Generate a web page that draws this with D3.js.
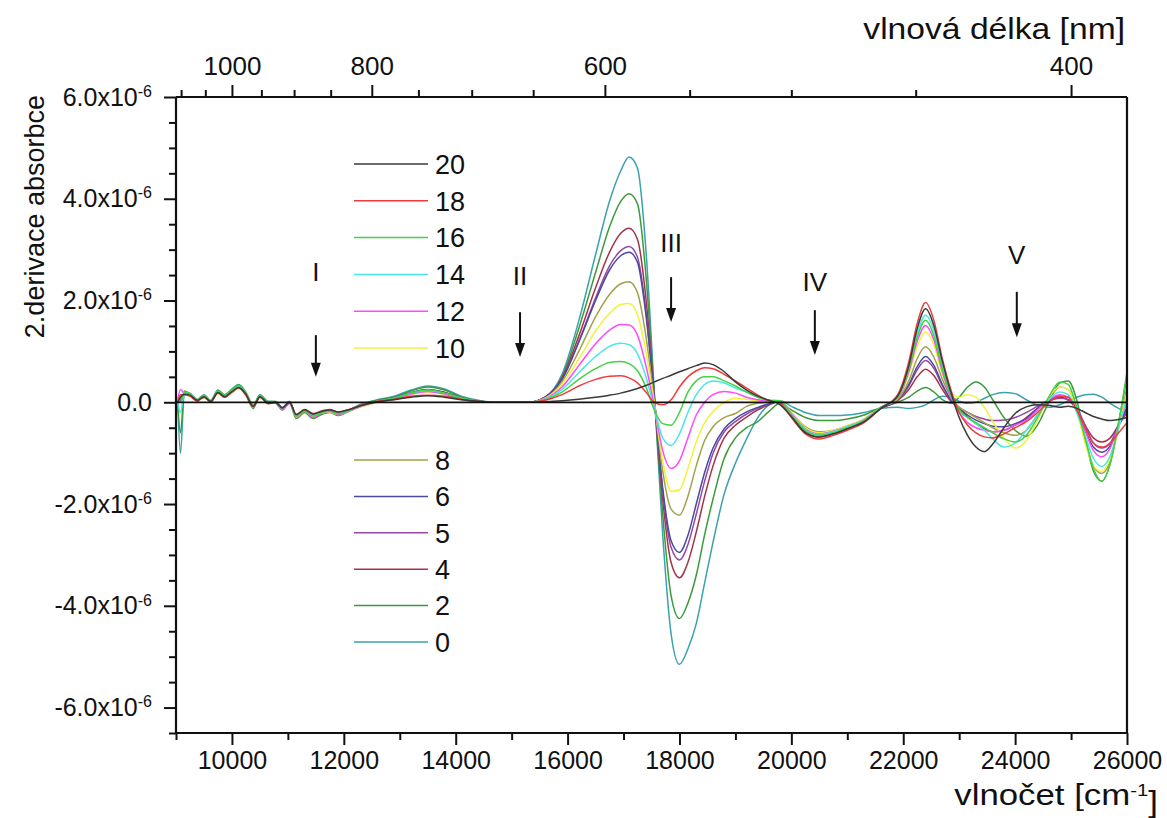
<!DOCTYPE html>
<html><head><meta charset="utf-8">
<script src="https://cdn.jsdelivr.net/npm/d3@7"></script>
<style>
body{margin:0;background:#fff}
svg{display:block}
text{font-family:"Liberation Sans",Arial,Helvetica,sans-serif;fill:#111}
</style>
</head><body>
<svg id="chart" width="1167" height="818"></svg>
<script>
// ---------- DATA (second derivative of absorbance, in units of 1e-6) ----------
const wavenumber = [9030,9080,9150,9250,9380,9500,9620,9750,9870,10000,10120,10250,10380,10500,10650,10780,10900,11030,
 11150,11300,11450,11600,11750,11900,12100,12300,12600,12900,13200,13500,13800,14100,14400,14700,15000,15300,
 15600,15900,16200,16500,16750,16950,17100,17250,17400,17550,17700,17850,18000,18150,18300,18450,18600,18800,19000,19200,19400,19600,19800,
 20000,20250,20500,20750,21000,21300,21600,
 21900,22100,22250,22400,22550,22700,22850,23000,23150,23300,23450,23600,23800,24000,24200,24400,24600,24800,24950,25100,25250,25400,25550,25700,25850,26000];

const s0 = [0.0,-1.0,0.2,0.18,0.06,0.15,0.04,0.24,0.14,0.26,0.35,0.2,-0.05,0.15,0.02,0.02,-0.1,0.02,
 -0.3,-0.18,-0.3,-0.22,-0.18,-0.24,-0.15,-0.04,0.05,0.12,0.24,0.32,0.26,0.12,0.04,0.0,0.0,0.0,
 0.1,0.55,1.6,2.9,3.95,4.55,4.82,4.6,3.0,0.2,-2.6,-4.55,-5.15,-4.85,-4.35,-3.55,-2.75,-1.8,-1.2,-0.72,-0.3,-0.05,0.03,
 -0.08,-0.2,-0.26,-0.26,-0.25,-0.2,-0.12,
 -0.1,-0.12,-0.1,-0.05,0.05,0.12,0.1,0.02,-0.02,0.0,0.08,0.15,0.19,0.17,0.05,-0.06,-0.1,-0.05,0.03,0.1,0.15,0.16,0.1,-0.02,-0.12,-0.2];
const s2 = [0.0,-0.6,0.22,0.16,0.02,0.14,0.0,0.23,0.15,0.25,0.34,0.15,-0.12,0.14,0.0,-0.02,-0.15,-0.02,
 -0.32,-0.2,-0.32,-0.24,-0.2,-0.26,-0.17,-0.06,0.04,0.1,0.22,0.3,0.24,0.1,0.03,0.0,0.0,0.0,
 0.1,0.5,1.45,2.55,3.45,3.95,4.1,3.9,2.5,0.15,-2.2,-3.8,-4.25,-3.95,-3.4,-2.6,-1.9,-1.1,-0.7,-0.5,-0.38,-0.18,-0.02,
 -0.15,-0.3,-0.36,-0.36,-0.33,-0.25,-0.1,
 0.0,0.1,0.22,0.29,0.2,0.05,-0.02,0.1,0.3,0.4,0.3,0.05,-0.3,-0.55,-0.67,-0.45,0.0,0.38,0.42,0.05,-0.7,-1.35,-1.55,-1.2,-0.4,0.5];
const s4 = [0.0,0.05,0.16,0.13,0.03,0.1,0.01,0.18,0.1,0.2,0.28,0.15,-0.07,0.1,-0.02,0.0,-0.11,0.0,
 -0.26,-0.16,-0.25,-0.19,-0.16,-0.21,-0.16,-0.07,0.02,0.08,0.18,0.24,0.2,0.08,0.02,0.0,0.0,0.0,
 0.1,0.48,1.3,2.25,2.95,3.32,3.42,3.2,2.05,0.1,-1.9,-3.15,-3.45,-3.15,-2.55,-1.85,-1.25,-0.7,-0.45,-0.29,-0.15,-0.05,0.02,
 -0.25,-0.58,-0.68,-0.62,-0.52,-0.38,-0.12,
 0.03,0.25,0.5,0.65,0.52,0.25,0.02,-0.12,-0.28,-0.42,-0.52,-0.58,-0.55,-0.45,-0.3,-0.12,0.02,0.1,0.05,-0.15,-0.45,-0.7,-0.78,-0.7,-0.45,-0.2];
const s5 = [0.0,0.1,0.17,0.15,0.05,0.11,0.03,0.19,0.12,0.21,0.3,0.17,-0.09,0.11,-0.01,0.01,-0.12,0.01,
 -0.25,-0.18,-0.24,-0.19,-0.17,-0.21,-0.17,-0.08,0.02,0.08,0.17,0.23,0.18,0.07,0.02,0.0,0.0,0.0,
 0.1,0.45,1.2,2.05,2.68,2.98,3.06,2.85,1.8,0.08,-1.75,-2.85,-3.1,-2.8,-2.2,-1.55,-1.0,-0.58,-0.38,-0.23,-0.12,-0.04,0.02,
 -0.22,-0.53,-0.63,-0.58,-0.5,-0.36,-0.12,
 0.04,0.32,0.64,0.82,0.66,0.32,0.05,-0.1,-0.2,-0.28,-0.33,-0.36,-0.35,-0.3,-0.2,-0.08,0.03,0.08,0.05,-0.1,-0.45,-0.8,-0.9,-0.8,-0.45,-0.15];
const s6 = [0.0,0.0,0.18,0.14,0.05,0.13,0.02,0.21,0.11,0.23,0.31,0.16,-0.08,0.12,-0.01,0.0,-0.13,0.0,
 -0.27,-0.17,-0.26,-0.2,-0.18,-0.22,-0.16,-0.07,0.02,0.09,0.19,0.25,0.19,0.08,0.02,0.0,0.0,0.0,
 0.1,0.45,1.18,2.0,2.6,2.88,2.95,2.75,1.72,0.08,-1.68,-2.72,-2.95,-2.62,-2.0,-1.38,-0.9,-0.52,-0.32,-0.19,-0.1,-0.03,0.02,
 -0.22,-0.52,-0.62,-0.58,-0.5,-0.36,-0.12,
 0.05,0.35,0.7,0.9,0.72,0.35,0.05,-0.12,-0.25,-0.35,-0.42,-0.47,-0.48,-0.42,-0.32,-0.12,0.05,0.12,0.1,-0.15,-0.55,-0.88,-0.98,-0.85,-0.45,-0.1];
const s8 = [0.0,0.08,0.16,0.16,0.03,0.12,0.03,0.19,0.12,0.2,0.29,0.18,-0.06,0.13,-0.01,-0.01,-0.12,0.0,
 -0.28,-0.18,-0.28,-0.21,-0.19,-0.23,-0.17,-0.09,0.0,0.07,0.17,0.22,0.17,0.07,0.01,0.0,0.0,0.0,
 0.08,0.4,1.0,1.68,2.12,2.33,2.37,2.15,1.3,0.02,-1.35,-2.1,-2.22,-1.85,-1.25,-0.75,-0.48,-0.3,-0.22,-0.08,-0.02,0.0,0.02,
 -0.2,-0.48,-0.58,-0.55,-0.46,-0.33,-0.1,
 0.06,0.42,0.86,1.09,0.88,0.45,0.1,-0.1,-0.2,-0.3,-0.4,-0.5,-0.6,-0.65,-0.55,-0.25,0.05,0.3,0.25,-0.1,-0.75,-1.25,-1.4,-1.15,-0.5,0.3];
const s10 = [0.0,0.12,0.15,0.12,0.06,0.1,0.04,0.17,0.1,0.19,0.27,0.18,-0.1,0.1,-0.03,0.02,-0.13,-0.01,
 -0.29,-0.17,-0.29,-0.21,-0.19,-0.24,-0.17,-0.09,0.0,0.06,0.15,0.2,0.15,0.06,0.01,0.0,0.0,0.0,
 0.08,0.35,0.85,1.4,1.75,1.92,1.94,1.72,1.0,-0.02,-1.15,-1.75,-1.72,-1.3,-0.78,-0.4,-0.18,0.0,0.08,0.06,0.03,0.02,0.03,
 -0.2,-0.5,-0.6,-0.55,-0.46,-0.33,-0.1,
 0.08,0.55,1.1,1.38,1.12,0.55,0.2,0.1,0.15,0.1,-0.1,-0.38,-0.7,-0.9,-0.75,-0.35,0.1,0.3,0.25,-0.15,-0.8,-1.25,-1.36,-1.1,-0.5,0.2];
const s12 = [0.05,0.25,0.17,0.13,0.03,0.12,0.0,0.2,0.1,0.21,0.32,0.15,-0.1,0.11,-0.02,0.0,-0.14,-0.02,
 -0.28,-0.17,-0.3,-0.21,-0.18,-0.24,-0.17,-0.08,0.01,0.07,0.16,0.21,0.16,0.06,0.01,0.0,0.0,0.0,
 0.07,0.3,0.72,1.15,1.42,1.53,1.52,1.32,0.72,-0.08,-0.95,-1.3,-1.15,-0.7,-0.25,0.0,0.15,0.21,0.18,0.1,0.05,0.03,0.03,
 -0.22,-0.52,-0.62,-0.57,-0.48,-0.34,-0.1,
 0.08,0.6,1.2,1.51,1.22,0.6,0.1,-0.2,-0.4,-0.5,-0.55,-0.58,-0.55,-0.45,-0.35,-0.15,0.05,0.15,0.1,-0.15,-0.55,-0.95,-1.07,-0.9,-0.45,0.0];
const s14 = [0.0,-0.2,0.19,0.15,0.05,0.13,0.03,0.21,0.13,0.23,0.31,0.17,-0.08,0.12,-0.01,0.0,-0.12,0.0,
 -0.26,-0.16,-0.26,-0.2,-0.17,-0.22,-0.16,-0.07,0.02,0.08,0.18,0.23,0.18,0.08,0.02,0.0,0.0,0.0,
 0.06,0.25,0.58,0.9,1.1,1.16,1.13,0.95,0.5,-0.12,-0.7,-0.85,-0.62,-0.2,0.15,0.35,0.42,0.38,0.28,0.2,0.1,0.04,0.03,
 -0.24,-0.53,-0.63,-0.58,-0.48,-0.35,-0.1,
 0.1,0.68,1.35,1.71,1.4,0.7,0.15,-0.18,-0.3,-0.42,-0.55,-0.72,-0.88,-0.8,-0.55,-0.25,0.05,0.2,0.15,-0.2,-0.65,-1.1,-1.26,-1.05,-0.5,0.1];
const s16 = [0.0,0.0,0.2,0.16,0.05,0.14,0.03,0.22,0.13,0.24,0.33,0.18,-0.07,0.13,0.0,0.01,-0.12,0.0,
 -0.27,-0.18,-0.27,-0.21,-0.17,-0.23,-0.16,-0.07,0.02,0.08,0.18,0.24,0.18,0.08,0.02,0.0,0.0,0.0,
 0.05,0.2,0.45,0.66,0.78,0.8,0.76,0.62,0.3,-0.15,-0.42,-0.45,-0.2,0.2,0.42,0.5,0.5,0.42,0.32,0.2,0.1,0.04,0.03,
 -0.25,-0.55,-0.65,-0.6,-0.5,-0.36,-0.1,
 0.1,0.65,1.28,1.61,1.3,0.65,0.15,-0.15,-0.3,-0.4,-0.5,-0.6,-0.72,-0.78,-0.65,-0.3,0.1,0.4,0.35,-0.1,-0.7,-1.3,-1.55,-1.2,-0.4,0.6];
const s18 = [0.0,0.15,0.15,0.12,0.03,0.1,0.01,0.18,0.1,0.2,0.28,0.14,-0.09,0.1,-0.03,0.0,-0.11,0.0,
 -0.24,-0.15,-0.22,-0.17,-0.14,-0.19,-0.14,-0.06,0.02,0.06,0.12,0.14,0.12,0.06,0.02,0.0,0.0,0.0,
 0.04,0.15,0.32,0.45,0.51,0.52,0.48,0.38,0.2,0.0,-0.05,0.05,0.3,0.5,0.62,0.68,0.66,0.55,0.42,0.28,0.14,0.03,-0.02,
 -0.3,-0.62,-0.72,-0.65,-0.55,-0.4,-0.12,
 0.15,0.8,1.55,1.96,1.6,0.85,0.25,-0.2,-0.45,-0.6,-0.68,-0.7,-0.62,-0.5,-0.38,-0.2,0.0,0.12,0.1,-0.15,-0.5,-0.8,-0.88,-0.8,-0.6,-0.4];
const s20 = [0.0,0.1,0.16,0.14,0.04,0.11,0.02,0.19,0.11,0.21,0.29,0.16,-0.08,0.11,-0.02,0.0,-0.11,0.0,
 -0.24,-0.14,-0.23,-0.18,-0.15,-0.19,-0.14,-0.07,0.01,0.05,0.1,0.13,0.1,0.05,0.02,0.0,0.0,0.0,
 0.01,0.03,0.06,0.1,0.14,0.18,0.22,0.27,0.33,0.4,0.47,0.53,0.6,0.66,0.72,0.77,0.74,0.6,0.4,0.24,0.12,0.04,-0.05,
 -0.28,-0.6,-0.68,-0.62,-0.52,-0.38,-0.12,
 0.12,0.72,1.45,1.84,1.5,0.8,0.2,-0.3,-0.65,-0.88,-0.97,-0.82,-0.5,-0.22,-0.09,-0.05,-0.06,-0.1,-0.08,-0.12,-0.2,-0.28,-0.33,-0.36,-0.34,-0.3];

const seriesLabels = ["20","18","16","14","12","10","8","6","5","4","2","0"];
const seriesValues = [s20,s18,s16,s14,s12,s10,s8,s6,s5,s4,s2,s0];
const seriesColors = ["#3a3a3a","#ee3c3c","#46d046","#4ae6e6","#ff48ff","#f2f23c","#a2a24a","#4a4aa0","#9648a2","#a23448","#3c9a3c","#3aa2ac"];
const legendTop = ["20","18","16","14","12","10"];
const legendBottom = ["8","6","5","4","2","0"];

const xMajorTicks = [10000,12000,14000,16000,18000,20000,22000,24000,26000];
const xMinorTicks = [9000,11000,13000,15000,17000,19000,21000,23000,25000];
const yMajorTicks = [-6,-4,-2,0,2,4,6];
const yMinorTicks = [-6.5,-5.5,-5,-4.5,-3.5,-3,-2.5,-1.5,-1,-0.5,0.5,1,1.5,2.5,3,3.5,4.5,5,5.5];
const nmMajorTicks = [1000,800,600,400];
const nmMinorTicks = [1100,1050,950,900,850,750,700,650,550,500,450];

const annotations = [
  {label:"I",   wn:11500, yText:2.56, yTop:1.32, yBot:0.50},
  {label:"II",  wn:15150, yText:2.48, yTop:1.77, yBot:0.89},
  {label:"III", wn:17850, yText:3.13, yTop:2.46, yBot:1.58},
  {label:"IV",  wn:20420, yText:2.38, yTop:1.81, yBot:0.93},
  {label:"V",   wn:24030, yText:2.91, yTop:2.17, yBot:1.28}
];

// ---------- CHART ----------
const svg = d3.select("#chart");
const L = 176, R = 1127, T = 97, B = 733;
const x = d3.scaleLinear().domain([9000, 26000]).range([L, R]);
const y = d3.scaleLinear().domain([-6.5, 6]).range([B, T]);

seriesValues.forEach((v,i)=>{ if(v.length!==wavenumber.length) console.error("len mismatch", seriesLabels[i], v.length, wavenumber.length); });

svg.append("defs").append("clipPath").attr("id","plotclip")
  .append("rect").attr("x",L).attr("y",T).attr("width",R-L).attr("height",B-T);

// curves
const line = d3.line().x(d=>x(d[0])).y(d=>y(d[1])).curve(d3.curveMonotoneX);
const gLines = svg.append("g").attr("clip-path","url(#plotclip)");
const order = d3.range(seriesLabels.length).reverse();
order.forEach(i=>{
  const pts = wavenumber.map((w,k)=>[w, seriesValues[i][k]]);
  gLines.append("path").attr("d", line(pts)).attr("fill","none")
    .attr("stroke", seriesColors[i]).attr("stroke-width",1.5).attr("stroke-linejoin","round");
});
// zero line
svg.append("line").attr("x1",x(9000)).attr("x2",x(26000)).attr("y1",y(0)).attr("y2",y(0))
  .attr("stroke","#111").attr("stroke-width",1.8);

// axes
function styleAxis(g){
  g.select(".domain").remove();
  g.selectAll(".tick line").attr("stroke","#111").attr("stroke-width",2);
  g.selectAll(".tick text").attr("fill","#111");
}
// bottom
svg.append("g").attr("transform",`translate(0,${B})`)
  .call(d3.axisBottom(x).tickValues(xMinorTicks).tickSize(7).tickFormat(""))
  .call(styleAxis);
svg.append("g").attr("transform",`translate(0,${B})`)
  .call(d3.axisBottom(x).tickValues(xMajorTicks).tickSize(12).tickPadding(6).tickFormat(d3.format("d")))
  .call(styleAxis)
  .selectAll(".tick text").style("font-size","25px");
// top (wavelength)
svg.append("g").attr("transform",`translate(0,${T})`)
  .call(d3.axisTop(x).tickValues(nmMinorTicks.map(n=>1e7/n)).tickSize(7).tickFormat(""))
  .call(styleAxis);
svg.append("g").attr("transform",`translate(0,${T})`)
  .call(d3.axisTop(x).tickValues(nmMajorTicks.map(n=>1e7/n)).tickSize(12).tickPadding(10).tickFormat(d=>Math.round(1e7/d)))
  .call(styleAxis)
  .selectAll(".tick text").style("font-size","26px");
// left
svg.append("g").attr("transform",`translate(${L},0)`)
  .call(d3.axisLeft(y).tickValues(yMinorTicks).tickSize(7).tickFormat(""))
  .call(styleAxis);
const yAx = svg.append("g").attr("transform",`translate(${L},0)`)
  .call(d3.axisLeft(y).tickValues(yMajorTicks).tickSize(12).tickPadding(12))
  .call(styleAxis);
yAx.selectAll(".tick text").style("font-size","25px").each(function(d){
  const t = d3.select(this); t.text(null);
  if(d===0){ t.append("tspan").text("0.0"); }
  else {
    t.append("tspan").text(d.toFixed(1)+"x10");
    t.append("tspan").attr("dy","-0.55em").style("font-size","16px").text("-6");
  }
});

// frame
const frame = svg.append("g").attr("stroke","#111").attr("stroke-width",2.2);
frame.append("line").attr("x1",L).attr("x2",R).attr("y1",T).attr("y2",T);
frame.append("line").attr("x1",L).attr("x2",R).attr("y1",B).attr("y2",B);
frame.append("line").attr("x1",L).attr("x2",L).attr("y1",T).attr("y2",B);
frame.append("line").attr("x1",R).attr("x2",R).attr("y1",T).attr("y2",B);

// axis titles
svg.append("text").attr("transform","translate(1125,39) scale(1.16,1)").attr("text-anchor","end")
  .style("font-size","29px").text("vlnová délka [nm]");
const xt = svg.append("text").attr("transform","translate(1158,805) scale(1.2,1)").attr("text-anchor","end")
  .style("font-size","29px");
xt.append("tspan").text("vlnočet [cm");
xt.append("tspan").attr("dy","-0.55em").style("font-size","17px").text("-1");
xt.append("tspan").attr("dy","0.55em").text("]");
svg.append("text").attr("transform","translate(44,95) rotate(-90)").attr("text-anchor","end")
  .style("font-size","27px").text("2.derivace absorbce");

// legend
function drawLegend(labels, y0, step){
  labels.forEach((lab,k)=>{
    const i = seriesLabels.indexOf(lab);
    const yy = y0 + k*step;
    svg.append("line").attr("x1",354).attr("x2",428).attr("y1",yy).attr("y2",yy)
      .attr("stroke",seriesColors[i]).attr("stroke-width",1.5);
    svg.append("text").attr("x",435).attr("y",yy).attr("dy","0.36em").style("font-size","27px").text(lab);
  });
}
drawLegend(legendTop, 164, 36.8);
drawLegend(legendBottom, 460, 36.4);

// annotations
annotations.forEach(a=>{
  const ax = x(a.wn);
  svg.append("text").attr("x",ax).attr("y",y(a.yText)).attr("dy","0.36em").attr("text-anchor","middle")
    .style("font-size","26px").text(a.label);
  const yb = y(a.yBot), yt = y(a.yTop);
  svg.append("line").attr("x1",ax).attr("x2",ax).attr("y1",yt).attr("y2",yb-10)
    .attr("stroke","#111").attr("stroke-width",2);
  svg.append("path").attr("d",`M${ax-5},${yb-14}L${ax+5},${yb-14}L${ax},${yb}Z`).attr("fill","#111");
});
</script>
</body></html>
